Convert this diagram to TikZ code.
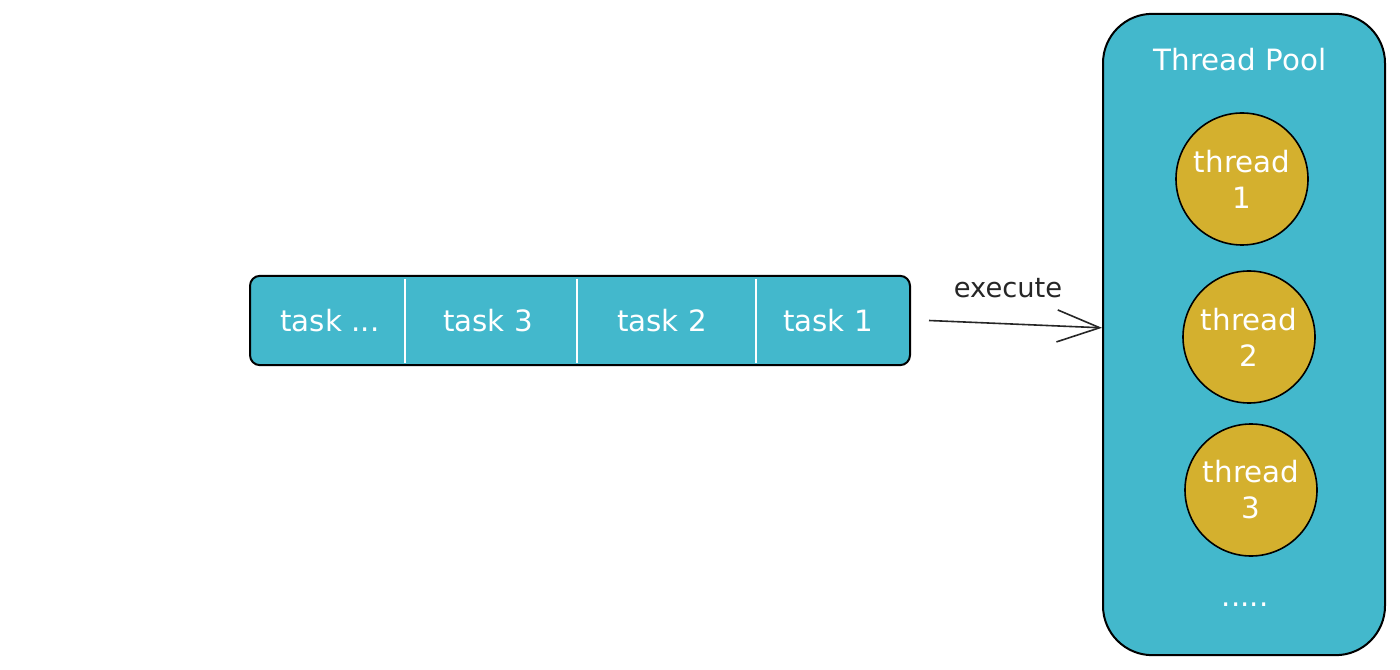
\documentclass[tikz,border=0pt]{standalone}
\usepackage{fontspec}
\setmainfont{DejaVu Sans}
\usetikzlibrary{arrows.meta}
\definecolor{poolteal}{RGB}{67,184,204}
\definecolor{threadgold}{RGB}{212,176,46}
\tikzset{every picture/.style={line width=0.75pt}}

\begin{document}
\begin{tikzpicture}[x=0.75pt,y=0.75pt,yscale=-1,xscale=1,
    lbl/.style={font=\fontsize{22}{27}\selectfont, text=white, inner sep=0.75pt},
    taskbar/.style={draw=black, fill=poolteal, line width=1.5pt, rounded corners=7.5pt, minimum width=495pt, minimum height=67pt, inner sep=0pt},
    poolbox/.style={draw=black, fill=poolteal, line width=1.5pt, rounded corners=37pt, minimum width=211.5pt, minimum height=481pt, inner sep=0pt},
    threadnode/.style={circle, draw=black, fill=threadgold, line width=1.2pt, minimum size=99pt, inner sep=0pt, align=center, font=\fontsize{22}{27}\selectfont, text=white},
    execarrow/.style={draw=black!85, line width=1.2pt, -{Straight Barb[length=32pt,width=24pt,line width=1.2pt]}}]
\path (0,0) rectangle (1400,670); %set diagram size

%Task queue
\node [taskbar] (queue) at (580,320.5) {};
\draw [white, line width=1pt] (405,279) -- (405,363) ;
\draw [white, line width=1pt] (577,279) -- (577,363) ;
\draw [white, line width=1pt] (756,279) -- (756,363) ;
% Text Node
\node [lbl] (taskn) at (330,321) {task ...};
% Text Node
\node [lbl] (task3) at (488,321) {task 3};
% Text Node
\node [lbl] (task2) at (662,321) {task 2};
% Text Node
\node [lbl] (task1) at (828,321) {task 1};

%Thread pool
\node [poolbox] (pool) at (1244,334.5) {};
% Text Node
\node [lbl] (pooltitle) at (1240,60) {Thread Pool};
\node [threadnode] (thread1) at (1242,179) {thread\\1};
\node [threadnode] (thread2) at (1249,337) {thread\\2};
\node [threadnode] (thread3) at (1251,490) {thread\\3};
% Text Node
\node [lbl, anchor=base] (more) at (1245,606) {.....};

%Straight Lines
\draw [execarrow] ([xshift=13.5pt]queue.east) -- ([yshift=-5pt]pool.west) ;
% Text Node
\node [lbl, text=black!85, font=\fontsize{20.5}{24}\selectfont] (execlabel) at (1008,288) {execute};

\end{tikzpicture}
\end{document}
